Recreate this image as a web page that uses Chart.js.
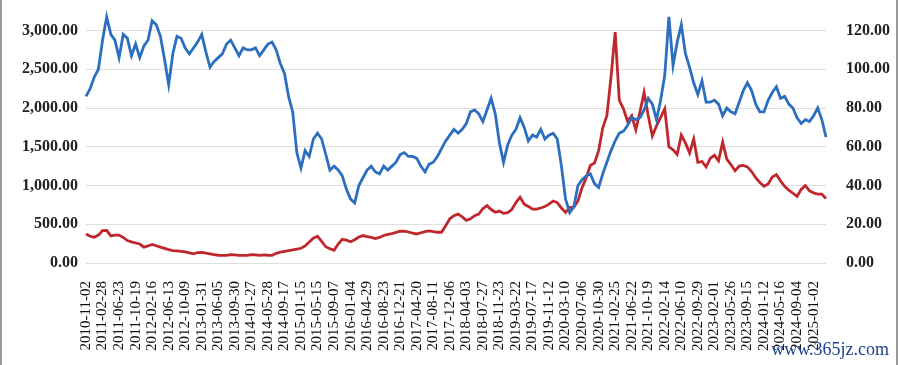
<!DOCTYPE html>
<html>
<head>
<meta charset="utf-8">
<script src="https://cdn.jsdelivr.net/npm/chart.js@4/dist/chart.umd.min.js"></script>
<style>
  html, body { margin: 0; padding: 0; background: #fff; overflow: hidden; }
  #wrap { position: relative; width: 894px; height: 365px; border-left: 2px solid #9a9a9a; border-right: 2px solid #9a9a9a; }
  #mark { position: absolute; right: 7px; bottom: 5px; font: 18px "Liberation Serif", serif; color: #1d3f8f; }
</style>
</head>
<body>
<div id="wrap">
  <canvas id="chart" width="894" height="365"></canvas>
  <div id="mark">www.365jz.com</div>
</div>
<script>
// tick dates shown on the x axis, one every 4 points
const tickDates = [
  '2010-11-02','2011-02-28','2011-06-23','2011-10-19','2012-02-16','2012-06-13','2012-10-09','2013-01-31',
  '2013-06-05','2013-09-30','2014-01-27','2014-05-28','2014-09-17','2015-01-15','2015-05-15','2015-09-07',
  '2016-01-04','2016-04-29','2016-08-23','2016-12-21','2017-04-20','2017-08-11','2017-12-06','2018-04-03',
  '2018-07-27','2018-11-23','2019-03-22','2019-07-17','2019-11-12','2020-03-10','2020-07-06','2020-10-30',
  '2021-02-25','2021-06-22','2021-10-19','2022-02-14','2022-06-10','2022-09-29','2023-02-01','2023-05-26',
  '2023-09-15','2024-01-12','2024-05-16','2024-09-04','2025-01-02'
];
const pointsPerTick = 4;

// red line, left axis
const leftSeries = [
  375,345,333,360,418,420,350,360,360,330,290,272,258,245,205,220,240,222,205,188,
  172,160,156,150,143,130,118,135,138,128,118,108,100,98,98,108,105,98,98,98,
  108,105,98,104,100,98,125,141,150,160,168,178,190,220,270,320,345,280,210,185,
  165,245,305,295,275,300,335,354,340,330,315,330,355,370,380,395,410,412,400,385,
  375,390,405,415,405,397,397,480,570,610,630,595,550,570,610,630,700,740,690,655,
  670,640,650,690,780,850,760,730,695,695,710,728,760,800,780,710,653,717,720,802,
  973,1100,1260,1290,1450,1745,1900,2400,2980,2100,1990,1830,1900,1720,1950,2200,1900,1640,1770,1880,
  1990,1500,1460,1400,1650,1550,1420,1600,1300,1310,1240,1350,1390,1320,1560,1340,1270,1190,1250,1260,
  1240,1180,1100,1040,990,1020,1110,1140,1060,990,940,900,860,950,1000,930,905,890,890,830
];

// blue line, right axis
const rightSeries = [
  86,90,96,100,115,127,118,115,106,118,116,107,113,106,112,115,125,123,117,105,
  92,108,117,116,111,108,111,114,118,109,101,104,106,108,113,115,111,107,111,110,
  110,111,107,110,113,114,110,103,98,86,78,57,49,58,55,64,67,64,56,48,
  50,48,45,38,33,31,40,44,48,50,47,46,50,48,50,52,56,57,55,55,
  54,50,47,51,52,55,59,63,66,69,67,69,72,78,79,77,73,79,85,77,
  62,52,61,66,69,75,70,63,66,65,69,64,66,67,64,50,33,26,29,40,
  43,45,46,41,39,46,52,58,63,67,68,71,75,74,75,79,85,82,74,84,
  97,127,102,114,123,108,101,93,87,94,83,83,84,82,76,80,78,77,83,89,
  93,89,82,78,78,84,88,91,85,86,82,80,75,72,74,73,76,80,74,65
];

const leftTickValues = [0, 500, 1000, 1500, 2000, 2500, 3000];
const rightTickValues = [0, 20, 40, 60, 80, 100, 120];

const labels = leftSeries.map((v, i) => i % pointsPerTick === 0 ? (tickDates[i / pointsPerTick] || '') : '');

const serif = '"Liberation Serif", "DejaVu Serif", serif';

new Chart(document.getElementById('chart'), {
  type: 'line',
  data: {
    labels: labels,
    datasets: [
      { data: rightSeries, yAxisID: 'yR', borderColor: '#2b6fbe', borderWidth: 2.8, pointRadius: 0, tension: 0, clip: false },
      { data: leftSeries, yAxisID: 'yL', borderColor: '#c0272d', borderWidth: 2.8, pointRadius: 0, tension: 0, clip: false }
    ]
  },
  options: {
    responsive: false,
    animation: false,
    layout: { padding: 0 },
    plugins: { legend: { display: false }, tooltip: { enabled: false } },
    scales: {
      x: {
        grid: { display: false },
        border: { display: false },
        ticks: { autoSkip: false, minRotation: 90, maxRotation: 90, padding: 10, color: '#111', font: { family: serif, size: 15 } },
        afterFit: s => { s.height = 102; }
      },
      yL: {
        position: 'left', min: 0, max: 3115,
        ticks: { autoSkip: false, padding: 8, color: '#222', font: { family: serif, size: 16, weight: 'bold' },
          callback: v => v.toLocaleString('en-US', { minimumFractionDigits: 2, maximumFractionDigits: 2 }) },
        afterBuildTicks: s => { s.ticks = leftTickValues.map(v => ({ value: v })); },
        grid: { color: '#dedede', drawTicks: false },
        border: { display: false },
        afterFit: s => { s.width = 84; }
      },
      yR: {
        position: 'right', min: 0, max: 124.6,
        ticks: { autoSkip: false, padding: 12, color: '#222', font: { family: serif, size: 16, weight: 'bold' },
          callback: v => v.toFixed(2) },
        afterBuildTicks: s => { s.ticks = rightTickValues.map(v => ({ value: v })); },
        grid: { display: false },
        border: { display: false },
        afterFit: s => { s.width = 70; }
      }
    }
  }
});
</script>
</body>
</html>
